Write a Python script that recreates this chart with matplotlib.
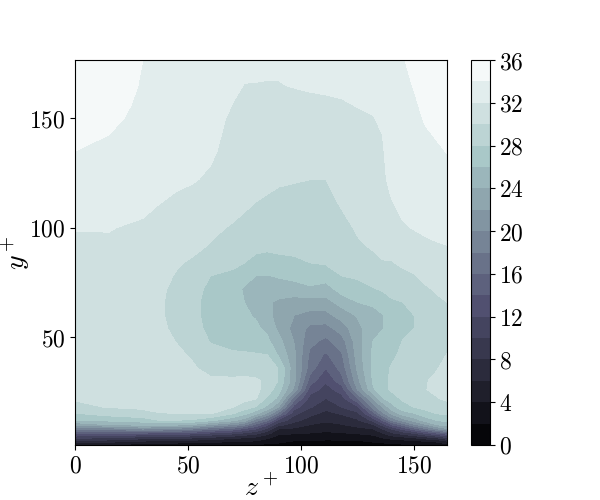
import numpy as np
import matplotlib
matplotlib.use('Agg')
import matplotlib.pyplot as plt

plt.rcParams['mathtext.fontset'] = 'cm'
plt.rcParams['font.family'] = 'serif'
plt.rcParams['font.serif'] = ['DejaVu Serif']

z_plus = [0, 15, 25, 30, 37, 45, 52, 60, 70, 75, 80, 85, 90, 97, 104, 111, 118, 125, 132, 136, 140, 145, 150, 155, 160, 164.6]
y_plus = [0.7, 2.5, 4, 6, 8, 10, 12, 15, 18, 22, 26, 30, 36, 42, 48, 54, 60, 66, 72, 78, 84, 92, 100, 110, 122, 135, 150, 165, 176.7]

# velocity, one list per z+ station (bottom to top)
u_z000 = [4, 7.5, 10.4, 14.4, 18.4, 22.4, 26, 27.8, 29.5, 30.2, 30.4, 30.6, 30.8, 30.9, 31, 31.1, 31.2, 31.3, 31.4, 31.5, 31.6, 31.8, 32.05, 32.6, 33.2, 34, 34.6, 35, 35.2]
u_z015 = [3.5, 7, 10, 14, 18.5, 24, 26.4, 28.8, 30.1, 30.5, 30.7, 30.8, 30.9, 31, 31.1, 31.2, 31.3, 31.4, 31.5, 31.6, 31.7, 31.85, 32.05, 32.5, 33, 33.7, 34.3, 34.7, 34.9]
u_z025 = [3.2, 6.3, 9.3, 13.7, 19.5, 24.4, 26.8, 29.2, 30.2, 30.6, 30.75, 30.85, 30.95, 31, 31.1, 31.2, 31.3, 31.4, 31.45, 31.55, 31.6, 31.75, 31.9, 32.3, 32.75, 33.2, 33.85, 34.2, 34.35]
u_z030 = [3, 6, 9, 13.5, 20, 24.6, 27, 29.5, 30.3, 30.7, 30.8, 30.9, 31, 31.05, 31.1, 31.2, 31.3, 31.4, 31.45, 31.5, 31.6, 31.7, 31.85, 32.2, 32.6, 32.9, 33.4, 33.85, 34]
u_z037 = [2.7, 5.7, 8.7, 13.2, 19.5, 24.6, 28, 29.9, 30.4, 30.8, 30.85, 30.85, 30.85, 30.7, 30.55, 30.4, 30.3, 30.3, 30.4, 30.6, 30.9, 31.2, 31.5, 31.98, 32.4, 32.7, 33.05, 33.4, 33.65]
u_z045 = [2.5, 5.5, 8.5, 13, 19, 24.5, 28, 30, 30.6, 30.9, 30.9, 30.8, 30.6, 30.3, 29.95, 29.6, 29.4, 29.35, 29.5, 29.85, 30.2, 30.7, 31.1, 31.75, 32.2, 32.5, 32.8, 33.1, 33.3]
u_z052 = [2.3, 5.2, 8.2, 12.5, 18, 23.8, 27.7, 30.05, 30.7, 30.95, 30.85, 30.6, 30.2, 29.8, 29.2, 28.7, 28.45, 28.45, 28.6, 29, 29.75, 30.5, 30.9, 31.5, 32.1, 32.35, 32.6, 32.85, 33.05]
u_z060 = [2.2, 4.8, 7.5, 11.5, 16.5, 22, 26.5, 30.1, 30.7, 31, 30.8, 30.3, 29.4, 28.6, 27.9, 27.5, 27.4, 27.4, 27.6, 28, 28.9, 29.9, 30.4, 31, 31.8, 32.2, 32.4, 32.6, 32.8]
u_z070 = [2, 4.4, 6.5, 10.5, 15, 20, 24.5, 28, 30, 30.7, 30.5, 30.2, 29.5, 28.3, 27.3, 26.8, 26.5, 26.3, 26.6, 27.5, 28.5, 29.2, 29.8, 30.6, 31.1, 31.5, 31.8, 32.2, 32.6]
u_z075 = [1.9, 4.2, 6, 9.5, 13.5, 18.5, 23, 26.5, 29, 30.6, 30.6, 30.3, 29.4, 28.2, 27.3, 26.7, 26.3, 26, 25.8, 26.6, 28, 29, 29.5, 30.2, 30.9, 31.3, 31.65, 31.97, 32.3]
u_z080 = [1.7, 3.9, 5.5, 8.5, 12, 15.5, 19, 24.5, 27.8, 30.2, 30.5, 30.3, 29, 28.1, 27.2, 26.4, 25.8, 25, 25.2, 26, 27.4, 28.6, 29.2, 29.9, 30.6, 31, 31.5, 31.97, 32.2]
u_z085 = [1.5, 3.2, 4.3, 6.7, 9.5, 12.5, 16.5, 21.5, 25.5, 27.7, 29.2, 29.6, 29, 28, 26.5, 25.5, 24.6, 24.3, 24.7, 25.9, 27.3, 28.4, 29.1, 29.7, 30.4, 30.9, 31.4, 31.95, 32.2]
u_z090 = [1.2, 2.8, 3.2, 4.4, 6, 8.7, 11.5, 17, 22, 25.5, 26.9, 27.9, 27.9, 25.8, 24.7, 23.6, 23.2, 23.7, 24.9, 26.2, 27.4, 28.6, 29, 29.5, 30.2, 30.8, 31.3, 31.95, 32.2]
u_z097 = [1.2, 1.9, 3, 4.1, 5.6, 7.1, 8.7, 10.5, 12.9, 16.9, 21.4, 22.5, 22.6, 22.4, 21.9, 21.3, 22, 23.2, 25.1, 26.6, 27.7, 28.5, 28.9, 29.4, 30.1, 30.7, 31.4, 32.05, 32.3]
u_z104 = [1, 1.8, 2.8, 3.9, 4.9, 6, 7.1, 8.6, 10.2, 11.2, 13, 15, 17, 17.5, 18.6, 19.5, 21.3, 23.2, 25.7, 26.9, 28, 28.5, 28.9, 29.5, 30, 30.7, 31.4, 32.15, 32.4]
u_z111 = [0.8, 1.7, 2.6, 3.6, 4.6, 5.5, 6.3, 7.4, 8.6, 10, 11.2, 12.3, 14.1, 15.7, 17.4, 19.3, 21.3, 23.3, 25.1, 27, 28.2, 28.6, 28.9, 29.4, 30, 30.7, 31.5, 32.2, 32.5]
u_z118 = [0.9, 1.7, 2.7, 3.8, 5, 5.9, 6.8, 8.2, 10, 11.2, 12.9, 15.2, 16.8, 17.8, 19.1, 20.9, 22.9, 24.8, 26.9, 28, 28.7, 29.1, 29.5, 30.1, 30.5, 31, 31.7, 32.2, 32.7]
u_z125 = [1, 1.8, 2.9, 4.1, 5.4, 6.7, 7.7, 9.5, 11.5, 16, 20, 21.4, 22.4, 22.9, 23.1, 23.4, 24.2, 26, 27.2, 28.3, 29.1, 29.8, 30.2, 30.5, 30.9, 31.4, 31.85, 32.3, 33]
u_z132 = [1.2, 2.3, 3.4, 4.4, 6, 8, 10.7, 15, 19, 22.2, 25.8, 26.3, 26.6, 26.5, 26.1, 25.3, 25.3, 26.4, 27.9, 28.9, 29.6, 30.2, 30.5, 30.9, 31.3, 31.7, 31.95, 32.5, 33]
u_z136 = [1.3, 2.6, 4, 5.8, 8, 10.7, 14, 19.3, 22, 25.8, 27.2, 27.5, 27.5, 27, 26.6, 25.9, 25.9, 27, 28.2, 29.2, 29.9, 30.5, 30.9, 31.2, 31.6, 31.8, 32.2, 32.9, 33.4]
u_z140 = [1.5, 3, 4.8, 7.5, 10, 14, 18.2, 22.3, 25.1, 27, 28.3, 28.3, 28.1, 27.7, 27.3, 26.9, 27, 27.7, 28.7, 29.3, 29.9, 30.7, 31.2, 31.8, 32.5, 32.9, 33.2, 33.55, 33.8]
u_z145 = [1.6, 3.3, 5.3, 8.8, 12.4, 16.8, 20.8, 25, 27.2, 28.4, 28.8, 28.9, 28.6, 28.3, 28.05, 27.7, 27.5, 28, 29, 29.6, 30.3, 31, 31.8, 32.4, 32.85, 33.2, 33.55, 33.75, 33.95]
u_z150 = [1.7, 3.7, 6, 10, 14.8, 19.6, 22.9, 25.8, 28, 28.7, 29.2, 29.3, 29.1, 28.8, 28.4, 28, 28, 28.6, 29.3, 29.9, 30.5, 31.3, 32.1, 32.7, 33.1, 33.4, 33.7, 34.05, 34.2]
u_z155 = [2, 4.1, 7, 11.8, 17.3, 21.6, 24.9, 27.2, 28.6, 29.4, 29.95, 29.9, 29.5, 29.1, 28.75, 28.5, 28.6, 29.2, 29.8, 30.4, 31, 31.7, 32.3, 32.8, 33.2, 33.65, 34.1, 34.4, 34.6]
u_z160 = [2.5, 4.5, 8, 13.5, 19.6, 24, 26, 28, 29.1, 29.9, 30.3, 30.3, 29.9, 29.4, 29.1, 29, 29.2, 29.7, 30.2, 30.8, 31.3, 31.9, 32.4, 32.9, 33.3, 33.8, 34.4, 34.8, 35]
u_z165 = [3, 6, 9.6, 15, 21.5, 24.9, 26.6, 28.3, 29.4, 30.3, 30.6, 30.7, 30.4, 30.05, 29.6, 29.5, 29.7, 30, 30.5, 31, 31.4, 32, 32.5, 33, 33.5, 34.05, 34.7, 35, 35.2]

U = np.array([u_z000, u_z015, u_z025, u_z030, u_z037, u_z045, u_z052, u_z060, u_z070, u_z075,
              u_z080, u_z085, u_z090, u_z097, u_z104, u_z111, u_z118, u_z125, u_z132, u_z136,
              u_z140, u_z145, u_z150, u_z155, u_z160, u_z165]).T

levels = np.arange(0, 38, 2)
cbar_ticks = np.arange(0, 40, 4)

fig = plt.figure(figsize=(6, 5), dpi=100)
ax = fig.add_axes([75/600, 55/500, 372/600, 385/500])
cax = fig.add_axes([470.5/600, 55/500, 19/600, 385/500])

cf = ax.contourf(z_plus, y_plus, U, levels=levels, cmap='bone')
ax.set_xticks([0, 50, 100, 150])
ax.set_yticks([50, 100, 150])
ax.set_xticklabels(['$0$', '$50$', '$100$', '$150$'])
ax.set_yticklabels(['$50$', '$100$', '$150$'])
ax.tick_params(labelsize=17)
ax.set_xlabel('$z^+$', fontsize=20, labelpad=-2)
ax.set_ylabel('$y^+$', fontsize=20, labelpad=-2.5)

cb = fig.colorbar(cf, cax=cax)
cb.set_ticks(cbar_ticks)
cb.set_ticklabels(['$%d$' % t for t in cbar_ticks])
cb.ax.tick_params(labelsize=17)

fig.savefig('out.png', dpi=100)
